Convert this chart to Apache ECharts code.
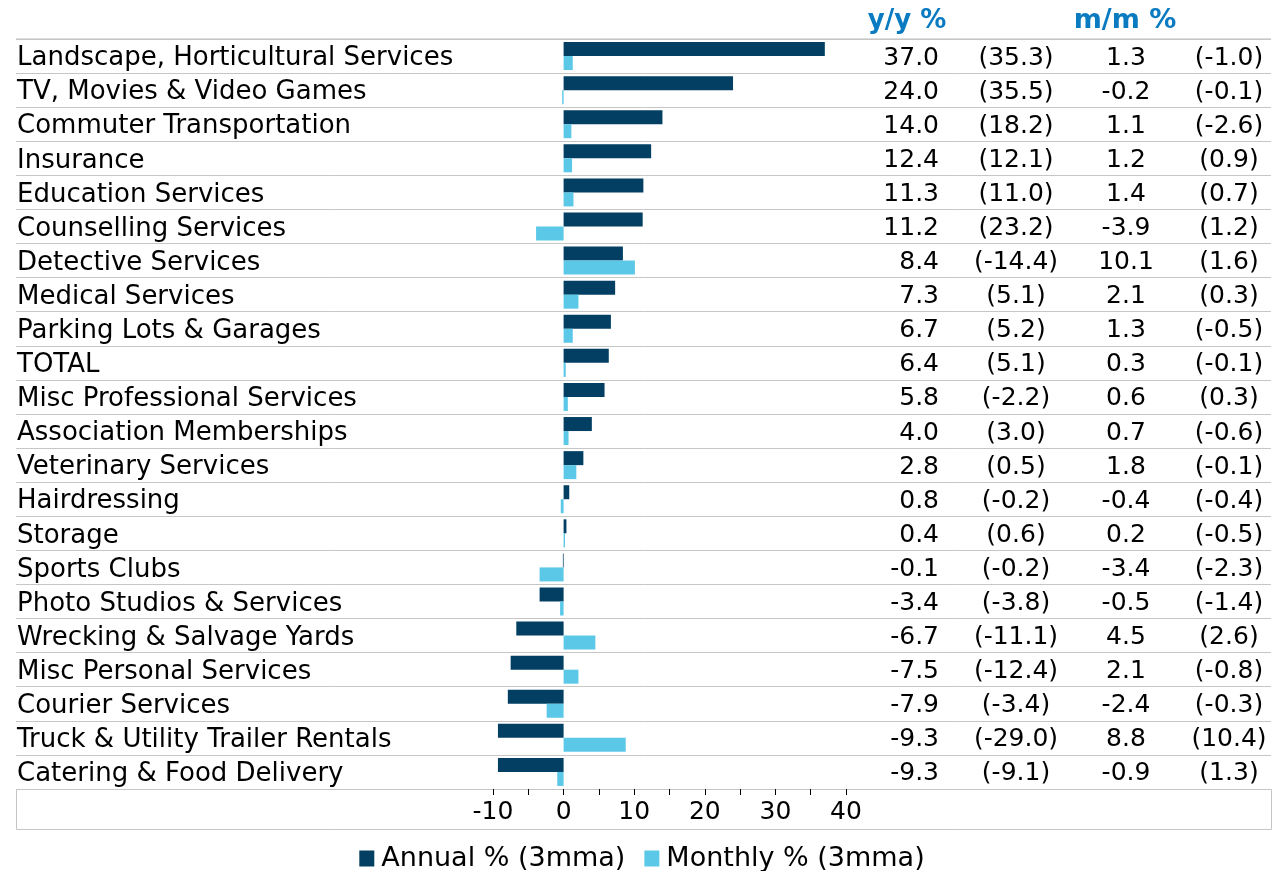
<!DOCTYPE html>
<html>
<head>
<meta charset="utf-8">
<script src="https://cdn.jsdelivr.net/npm/echarts@6/dist/echarts.min.js"></script>
<style>
  html, body { margin: 0; padding: 0; background: #fff; }
  #chart { width: 1284px; height: 871px; }
</style>
</head>
<body>
<div id="chart"></div>
<script>
// categories top to bottom
const categories = [
  "Landscape, Horticultural Services", "TV, Movies & Video Games", "Commuter Transportation",
  "Insurance", "Education Services", "Counselling Services", "Detective Services",
  "Medical Services", "Parking Lots & Garages", "TOTAL", "Misc Professional Services",
  "Association Memberships", "Veterinary Services", "Hairdressing", "Storage", "Sports Clubs",
  "Photo Studios & Services", "Wrecking & Salvage Yards", "Misc Personal Services",
  "Courier Services", "Truck & Utility Trailer Rentals", "Catering & Food Delivery"
];
// annual % (3mma) and previous period
const annual = [37.0, 24.0, 14.0, 12.4, 11.3, 11.2, 8.4, 7.3, 6.7, 6.4, 5.8, 4.0, 2.8, 0.8, 0.4, -0.1, -3.4, -6.7, -7.5, -7.9, -9.3, -9.3];
const annualPrev = [35.3, 35.5, 18.2, 12.1, 11.0, 23.2, -14.4, 5.1, 5.2, 5.1, -2.2, 3.0, 0.5, -0.2, 0.6, -0.2, -3.8, -11.1, -12.4, -3.4, -29.0, -9.1];
// monthly % (3mma) and previous period
const monthly = [1.3, -0.2, 1.1, 1.2, 1.4, -3.9, 10.1, 2.1, 1.3, 0.3, 0.6, 0.7, 1.8, -0.4, 0.2, -3.4, -0.5, 4.5, 2.1, -2.4, 8.8, -0.9];
const monthlyPrev = [-1.0, -0.1, -2.6, 0.9, 0.7, 1.2, 1.6, 0.3, -0.5, -0.1, 0.3, -0.6, -0.1, -0.4, -0.5, -2.3, -1.4, 2.6, -0.8, -0.3, 10.4, 1.3];
const xTicks = [-10, 0, 10, 20, 30, 40];

const FONT = "DejaVu Sans";
const DARK = "#023f63";
const LIGHT = "#5cc8e8";
const BLUE = "#0a7bc1";

const chart = echarts.init(document.getElementById("chart"));

function tableItem(params, api) {
  const i = params.dataIndex;
  const y = api.coord([0, api.value(1)])[1] + 2;
  const cols = [
    { x: 939, align: "right", text: annual[i].toFixed(1) },
    { x: 1016, align: "center", text: "(" + annualPrev[i].toFixed(1) + ")" },
    { x: 1126, align: "center", text: monthly[i].toFixed(1) },
    { x: 1229, align: "center", text: "(" + monthlyPrev[i].toFixed(1) + ")" }
  ];
  return {
    type: "group",
    children: cols.map(c => ({
      type: "text",
      style: {
        x: c.x, y: y, text: c.text, align: c.align, verticalAlign: "middle",
        fontFamily: FONT, fontSize: 25, fill: "#000"
      }
    }))
  };
}

chart.setOption({
  animation: false,
  textStyle: { fontFamily: FONT },
  grid: [
    { left: 493, width: 353, top: 39, height: 750 },
    { left: 16, right: 13, top: 39, height: 750 }
  ],
  xAxis: [
    {
      type: "value", gridIndex: 0, min: xTicks[0], max: xTicks[xTicks.length - 1], interval: 5,
      axisLine: { show: false },
      axisTick: { show: true, length: 6, lineStyle: { color: "#000" } },
      splitLine: { show: false },
      axisLabel: {
        margin: 11, fontSize: 25, color: "#000", fontFamily: FONT,
        formatter: v => (xTicks.indexOf(v) >= 0 ? String(v) : "")
      }
    },
    { type: "value", gridIndex: 1, min: 0, max: 1, show: false }
  ],
  yAxis: [
    {
      type: "category", gridIndex: 0, data: categories, inverse: true,
      axisLine: { show: false }, axisTick: { show: false }, splitLine: { show: false },
      axisLabel: {
        align: "left", margin: 476, color: "#000", fontFamily: FONT,
        formatter: v => "{c|" + v + "}",
        rich: { c: { fontSize: 26, fontFamily: FONT, color: "#000", padding: [5, 0, 0, 0] } }
      }
    },
    {
      type: "category", gridIndex: 1, data: categories, inverse: true,
      axisLine: { show: false }, axisTick: { show: false }, axisLabel: { show: false },
      splitLine: { show: true, lineStyle: { color: "#c6c6c6", width: 1 } }
    }
  ],
  legend: {
    left: "center", top: 840, itemWidth: 15, itemHeight: 16, itemGap: 19,
    textStyle: { fontSize: 27, color: "#000", fontFamily: FONT, padding: [0, 0, 0, 2] },
    data: [
      { name: "Annual % (3mma)", icon: "rect" },
      { name: "Monthly % (3mma)", icon: "rect" }
    ]
  },
  graphic: [
    {
      type: "line", silent: true,
      shape: { x1: 16, y1: 39, x2: 1271, y2: 39 },
      style: { stroke: "#dcdcdc", lineWidth: 2 }
    },
    {
      type: "rect", silent: true,
      shape: { x: 16.5, y: 789.5, width: 1255, height: 40 },
      style: { fill: "none", stroke: "#c6c6c6", lineWidth: 1 }
    },
    {
      type: "text", x: 907, y: 21,
      style: {
        text: "y/y %", align: "center", verticalAlign: "middle",
        fontFamily: FONT, fontSize: 26, fontWeight: "bold", fill: BLUE
      }
    },
    {
      type: "text", x: 1125, y: 21,
      style: {
        text: "m/m %", align: "center", verticalAlign: "middle",
        fontFamily: FONT, fontSize: 27, fontWeight: "bold", fill: BLUE
      }
    }
  ],
  series: [
    {
      name: "Annual % (3mma)", type: "bar", xAxisIndex: 0, yAxisIndex: 0,
      data: annual, barWidth: 14, barGap: "0%", itemStyle: { color: DARK }
    },
    {
      name: "Monthly % (3mma)", type: "bar", xAxisIndex: 0, yAxisIndex: 0,
      data: monthly, barWidth: 14, barGap: "0%", itemStyle: { color: LIGHT }
    },
    {
      type: "custom", xAxisIndex: 0, yAxisIndex: 0, silent: true,
      data: categories.map(c => [0, c]),
      encode: { x: 0, y: 1 },
      renderItem: tableItem
    }
  ]
});
</script>
</body>
</html>
